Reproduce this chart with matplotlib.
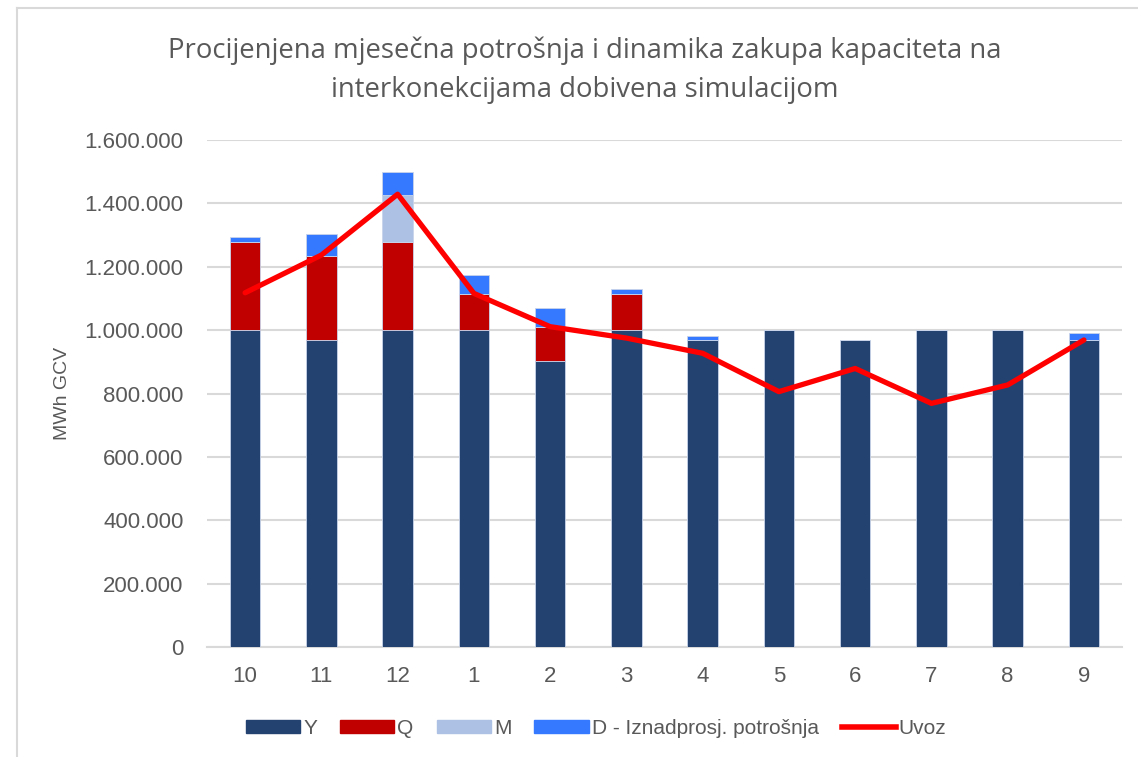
import numpy as np
import matplotlib

matplotlib.use("Agg")
import matplotlib.pyplot as plt
from matplotlib.lines import Line2D

months = ["10", "11", "12", "1", "2", "3", "4", "5", "6", "7", "8", "9"]
y_prod = [1000000, 968000, 1000000, 1000000, 903000, 1000000, 968000, 1000000, 968000, 1000000, 1000000, 968000]
q_prod = [278000, 267000, 277000, 115000, 107000, 115000, 0, 0, 0, 0, 0, 0]
m_prod = [0, 0, 150000, 0, 0, 0, 0, 0, 0, 0, 0, 0]
d_prod = [16000, 68000, 72000, 59000, 59000, 15000, 14000, 0, 0, 0, 0, 24000]
uvoz = [1118000, 1237000, 1429000, 1116000, 1011000, 975000, 927000, 806000, 879000, 769000, 827000, 969000]

title = "Procijenjena mjesečna potrošnja i dinamika zakupa kapaciteta na\ninterkonekcijama dobivena simulacijom"
yticks = np.arange(0, 1600001, 200000)

COL_Y = "#244270"
COL_Q = "#C00000"
COL_M = "#ADC1E5"
COL_D = "#3479FF"
COL_LINE = "#FF0000"
GRID = "#D9D9D9"
TXT = "#595959"

plt.rcParams["font.family"] = ["Liberation Sans", "DejaVu Sans"]

fig = plt.figure(figsize=(11.38, 7.57), dpi=100)
ax = fig.add_axes([0.1819, 0.1453, 0.8041, 0.6697])

x = np.arange(len(months))
w = 0.40
ek = dict(edgecolor="#C9D4EA", linewidth=0.6, zorder=3)
b_y = np.array(y_prod)
b_q = np.array(q_prod)
b_m = np.array(m_prod)
b_d = np.array(d_prod)
ax.bar(x, b_y, w, color=COL_Y, label="Y", **ek)
ax.bar(x, b_q, w, bottom=b_y, color=COL_Q, label="Q", **ek)
ax.bar(x, b_m, w, bottom=b_y + b_q, color=COL_M, label="M", **ek)
ax.bar(x, b_d, w, bottom=b_y + b_q + b_m, color=COL_D, label="D - Iznadprosj. potrošnja", **ek)
ax.plot(x, uvoz, color=COL_LINE, lw=3.8, solid_capstyle="round", solid_joinstyle="round",
        zorder=4, label="Uvoz")

ax.set_xlim(-0.5, len(months) - 0.5)
ax.set_ylim(0, 1600000)
ax.set_yticks(yticks)
ax.set_yticklabels([f"{v:,}".replace(",", ".") for v in yticks])
ax.set_xticks(x)
ax.set_xticklabels(months)
ax.tick_params(axis="both", length=0, labelsize=16, colors=TXT)
ax.tick_params(axis="x", pad=14)
ax.tick_params(axis="y", pad=17)
ax.grid(axis="y", color=GRID, lw=1.5, zorder=0)
ax.set_axisbelow(True)
for s in ["top", "right", "left"]:
    ax.spines[s].set_visible(False)
ax.spines["bottom"].set_color(GRID)
ax.spines["bottom"].set_linewidth(1.5)
ax.set_ylabel("MWh GCV", fontsize=14, color=TXT, labelpad=10)

fig.text(0.514, 0.907, title, ha="center", va="center", fontsize=19.8, color=TXT,
         family=["Open Sans", "DejaVu Sans"], linespacing=1.5)

handles = [
    plt.Rectangle((0, 0), 1, 1, color=COL_Y),
    plt.Rectangle((0, 0), 1, 1, color=COL_Q),
    plt.Rectangle((0, 0), 1, 1, color=COL_M),
    plt.Rectangle((0, 0), 1, 1, color=COL_D),
    Line2D([0], [0], color=COL_LINE, lw=4),
]
labels = ["Y", "Q", "M", "D - Iznadprosj. potrošnja", "Uvoz"]
fig.legend(handles, labels, loc="center", bbox_to_anchor=(0.524, 0.038), ncol=5, frameon=False,
           fontsize=15, labelcolor=TXT, handlelength=2.6, handleheight=0.55, handletextpad=0.15,
           columnspacing=1.1)

# outer chart border (left and top edges visible)
fig.add_artist(Line2D([17 / 1138, 17 / 1138], [0, 1 - 8 / 757], transform=fig.transFigure,
                      color=GRID, lw=1.5))
fig.add_artist(Line2D([17 / 1138, 1], [1 - 8 / 757, 1 - 8 / 757], transform=fig.transFigure,
                      color=GRID, lw=1.5))

fig.savefig("out.png", dpi=100)
